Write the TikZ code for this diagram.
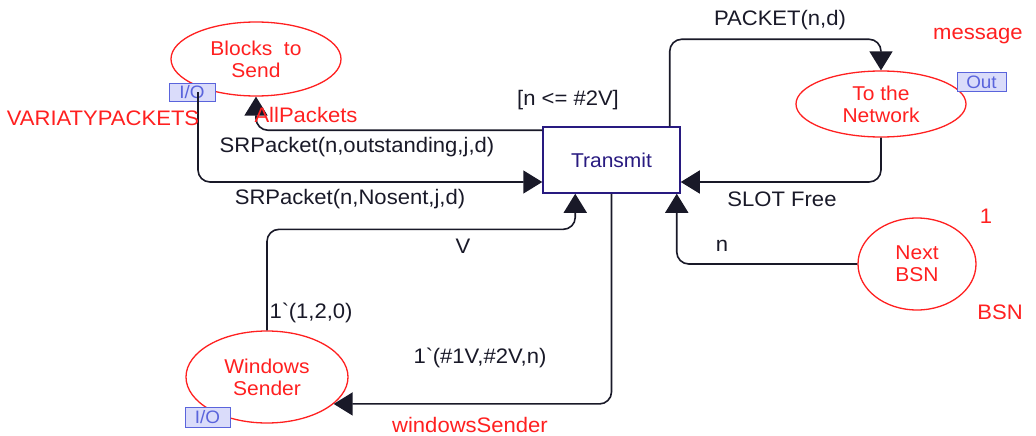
\documentclass[tikz,border=0pt]{standalone}
\usepackage{fontspec}
\setmainfont[FakeStretch=1.05]{Liberation Sans}
\usetikzlibrary{shapes.geometric,arrows.meta}
\definecolor{cpnred}{RGB}{255,32,32}
\definecolor{cpnnavy}{RGB}{40,26,128}
\definecolor{cpnblue}{RGB}{90,100,220}
\definecolor{cpnfill}{RGB}{218,220,250}
\definecolor{cpnink}{RGB}{25,25,40}
\tikzset{
  place/.style={ellipse, draw=cpnred, line width=1.3pt, text=cpnred, align=center, inner sep=0pt, font=\fontsize{20}{22}\selectfont},
  trans/.style={rectangle, draw=cpnnavy, line width=1.5pt, text=cpnnavy, inner sep=0pt, font=\fontsize{20}{22}\selectfont},
  port/.style={rectangle, draw=cpnblue, fill=cpnfill, line width=1pt, text=cpnblue, inner sep=0pt, font=\fontsize{18}{20}\selectfont},
  arc/.style={line width=1.6pt, draw=cpnink, rounded corners=12pt, -{Triangle[length=19pt,width=23pt]}},
  lbl/.style={text=cpnink, inner sep=0pt, font=\fontsize{21}{23}\selectfont},
  rlbl/.style={text=cpnred, inner sep=0pt, font=\fontsize{21}{23}\selectfont}
}
\begin{document}
\begin{tikzpicture}[x=1pt,y=-1pt]
\useasboundingbox (0,0) rectangle (1036,436);
% places
\node[place, minimum width=170pt, minimum height=74pt] (blocks) at (256,59) {Blocks\ \ to\\Send};
\node[place, minimum width=170pt, minimum height=66pt] (net) at (881,104) {To the\\Network};
\node[place, minimum width=118pt, minimum height=92pt] (bsn) at (917,264) {Next\\BSN};
\node[place, minimum width=162pt, minimum height=92pt] (ws) at (267,377) {Windows\\Sender};
% transition
\node[trans, minimum width=137pt, minimum height=66pt] (transmit) at (611.5,160) {Transmit};
% ports
\node[port, minimum width=46pt, minimum height=18pt] (io1) at (192,92) {I/O};
\node[port, minimum width=49pt, minimum height=18pt] (out) at (981.5,82) {Out};
\node[port, minimum width=45pt, minimum height=20pt] (io2) at (207.5,417) {I/O};
% arcs
\draw[arc] ([yshift=-4pt]transmit.north west) -| (blocks.south);
\draw[arc] ([xshift=6pt]io1.center) |- ([yshift=-22pt]transmit.west);
\draw[arc] ([xshift=-11pt]transmit.north east) -- ++(0,-87) -| (net.north);
\draw[arc] (net.south) |- ([yshift=-22pt]transmit.east);
\draw[arc] (bsn.west) -| ([xshift=-4pt]transmit.south east);
\draw[arc] (ws.north) -- ++(0,-101) -| ([xshift=33pt]transmit.south west);
\draw[arc] (transmit.south) |- (ws.-22);
% labels
\node[rlbl] (lallp) at (306,115) {AllPackets};
\node[rlbl] (lvar) at (103,118) {VARIATYPACKETS};
\node[lbl] (lguard) at (568,100) {[n <= \#2V]};
\node[lbl] (lout) at (357,147) {SRPacket(n,outstanding,j,d)};
\node[lbl] (lnos) at (350,199) {SRPacket(n,Nosent,j,d)};
\node[lbl] (lpack) at (780,20) {PACKET(n,d)};
\node[rlbl, anchor=west] (lmsg) at (933,36) {message};
\node[lbl] (lslot) at (782,199) {SLOT Free};
\node[lbl] (lv) at (463,246) {V};
\node[lbl] (ln) at (722,246) {n};
\node[lbl] (linit) at (311,313) {1\textasciigrave(1,2,0)};
\node[lbl] (lws) at (480,358) {1\textasciigrave(\#1V,\#2V,n)};
\node[rlbl] (lwsname) at (470,425) {windowsSender};
\node[rlbl] (lone) at (986,216) {1};
\node[rlbl] (lbsn) at (1000,312) {BSN};
\end{tikzpicture}
\end{document}
